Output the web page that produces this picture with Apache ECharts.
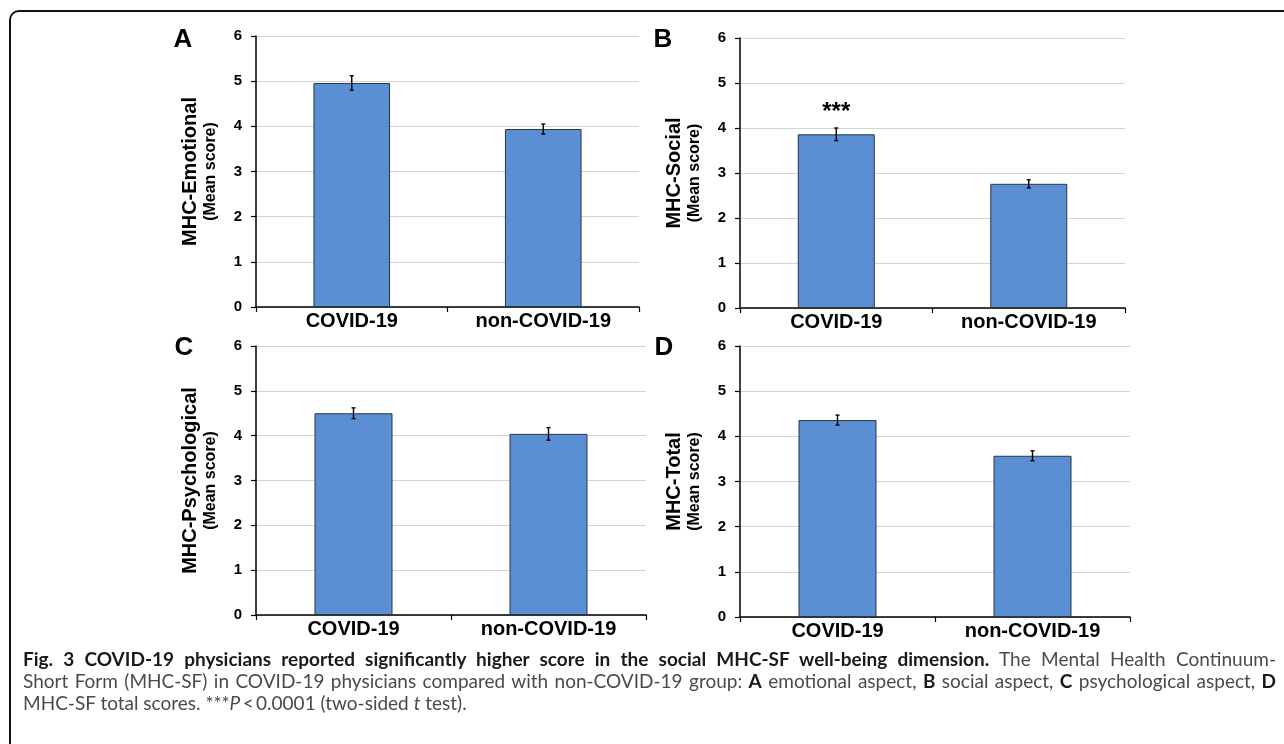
<!DOCTYPE html>
<html>
<head>
<meta charset="utf-8">
<script src="https://cdn.jsdelivr.net/npm/echarts@6/dist/echarts.min.js"></script>
<style>
  html, body { margin: 0; padding: 0; background: #fff; }
  #wrap { position: relative; width: 1284px; height: 744px; overflow: hidden; background: #fff; }
  #chart { position: absolute; left: 0; top: 0; width: 1284px; height: 744px; }
  #frame { position: absolute; left: 9px; top: 10px; width: 1300px; height: 760px;
           border-top: 2px solid #111; border-left: 2px solid #111; border-top-left-radius: 10px; pointer-events: none; }
  #cap { position: absolute; left: 23px; top: 648px; width: 1253px; font-family: Lato, "Open Sans", sans-serif;
         font-size: 19px; line-height: 22px; color: #4a4a4a; }
  #cap b { color: #1a1a1a; font-weight: 700; }
  .l { white-space: nowrap; overflow: visible; }
  .j { text-align: justify; text-align-last: justify; }
</style>
</head>
<body>
<div id="wrap">
  <div id="chart"></div>
  <div id="frame"></div>
  <div id="cap">
    <div class="l j"><b>Fig. 3 COVID-19 physicians reported significantly higher score in the social MHC-SF well-being dimension.</b> The Mental Health Continuum-</div>
    <div class="l j">Short Form (MHC-SF) in COVID-19 physicians compared with non-COVID-19 group: <b>A</b> emotional aspect, <b>B</b> social aspect, <b>C</b> psychological aspect, <b>D</b></div>
    <div class="l">MHC-SF total scores. ***<i>P</i>&thinsp;&lt;&thinsp;0.0001 (two-sided <i>t</i> test).</div>
  </div>
</div>
<script>
// ---- data ----
const categories = ['COVID-19', 'non-COVID-19'];
const emotionalMean = [4.96, 3.94];
const emotionalErr  = [0.16, 0.11];
const socialMean    = [3.86, 2.76];
const socialErr     = [0.14, 0.09];
const psychMean     = [4.50, 4.04];
const psychErr      = [0.12, 0.14];
const totalMean     = [4.36, 3.57];
const totalErr      = [0.11, 0.11];
const emotionalSig  = ['', ''];
const socialSig     = ['***', ''];
const psychSig      = ['', ''];
const totalSig      = ['', ''];
const panelLetters  = ['A', 'B', 'C', 'D'];
const yTitles       = ['MHC-Emotional', 'MHC-Social', 'MHC-Psychological', 'MHC-Total'];
const ySubtitle     = '(Mean score)';
const yMin = 0, yMax = 6, yStep = 1;

// ---- layout ----
const FONT = '"Liberation Sans", Arial, sans-serif';
const grids = [
  { left: 256, top: 36,  width: 383, height: 271 },
  { left: 740, top: 38,  width: 385, height: 270 },
  { left: 256, top: 346, width: 390, height: 269 },
  { left: 740, top: 346, width: 390, height: 271 }
];
const letterPos = [[183, 40], [663, 40], [184, 348], [664, 348]];
const panels = [
  { mean: emotionalMean, err: emotionalErr, sig: emotionalSig },
  { mean: socialMean,    err: socialErr,    sig: socialSig },
  { mean: psychMean,     err: psychErr,     sig: psychSig },
  { mean: totalMean,     err: totalErr,     sig: totalSig }
];

const option = {
  animation: false,
  backgroundColor: 'transparent',
  textStyle: { fontFamily: FONT },
  grid: grids.map(g => Object.assign({ containLabel: false }, g)),
  xAxis: grids.map((g, i) => ({
    type: 'category', gridIndex: i, data: categories,
    axisLine: { show: true, lineStyle: { color: '#000', width: 1.5 } },
    axisTick: { show: true, length: 5, lineStyle: { color: '#000', width: 1.2 } },
    axisLabel: { color: '#000', fontSize: 20, fontWeight: 'bold', fontFamily: FONT, margin: 4 },
    splitLine: { show: false }
  })),
  yAxis: grids.map((g, i) => ({
    type: 'value', gridIndex: i, min: yMin, max: yMax, interval: yStep,
    name: '{t|' + yTitles[i] + '}\n{s|' + ySubtitle + '}',
    nameLocation: 'middle', nameRotate: 90, nameGap: 36,
    nameTextStyle: {
      align: 'center',
      rich: {
        t: { fontSize: 20, fontWeight: 'bold', lineHeight: 22, color: '#000', fontFamily: FONT, align: 'center' },
        s: { fontSize: 16, fontWeight: 'bold', lineHeight: 19, color: '#000', fontFamily: FONT, align: 'center' }
      }
    },
    axisLine: { show: true, lineStyle: { color: '#000', width: 1.5 } },
    axisTick: { show: true, length: 5, lineStyle: { color: '#000', width: 1.2 } },
    axisLabel: { color: '#000', fontSize: 15, fontWeight: 'bold', fontFamily: FONT, margin: 14 },
    splitLine: { show: true, lineStyle: { color: '#d4d4d4', width: 1 } }
  })),
  graphic: panelLetters.map((L, i) => ({
    type: 'text', x: letterPos[i][0], y: letterPos[i][1],
    style: { text: L, fontSize: 26, fontWeight: 'bold', fontFamily: FONT, fill: '#000',
             align: 'center', verticalAlign: 'middle' }
  })),
  series: []
};

panels.forEach((p, i) => {
  option.series.push({
    type: 'bar', xAxisIndex: i, yAxisIndex: i, barWidth: '40%',
    data: p.mean,
    itemStyle: { color: '#5a8fd4', borderColor: '#2a3545', borderWidth: 1 },
    label: {
      show: true, position: 'top', distance: 10,
      formatter: (prm) => p.sig[prm.dataIndex],
      fontSize: 24, fontWeight: 'bold', color: '#000', fontFamily: FONT
    },
    z: 2
  });
  option.series.push({
    type: 'custom', xAxisIndex: i, yAxisIndex: i,
    data: p.mean.map((m, k) => [k, m, p.err[k]]),
    renderItem: (params, api) => {
      const x = api.value(0), y = api.value(1), e = api.value(2);
      const hi = api.coord([x, y + e]);
      const lo = api.coord([x, y - e]);
      const c = 2;
      const st = { stroke: '#000', lineWidth: 1.4 };
      return {
        type: 'group',
        children: [
          { type: 'line', shape: { x1: hi[0], y1: hi[1], x2: lo[0], y2: lo[1] }, style: st },
          { type: 'line', shape: { x1: hi[0] - c, y1: hi[1], x2: hi[0] + c, y2: hi[1] }, style: st },
          { type: 'line', shape: { x1: lo[0] - c, y1: lo[1], x2: lo[0] + c, y2: lo[1] }, style: st }
        ]
      };
    },
    z: 5
  });
});

const chart = echarts.init(document.getElementById('chart'), null, { renderer: 'canvas' });
chart.setOption(option);

// fit caption lines into the column width
document.querySelectorAll('#cap .l').forEach(el => {
  const w = el.clientWidth;
  const sw = el.scrollWidth;
  if (sw > w) {
    const n = el.textContent.length;
    el.style.letterSpacing = (-(sw - w + 2) / n).toFixed(3) + 'px';
  }
});
</script>
</body>
</html>
